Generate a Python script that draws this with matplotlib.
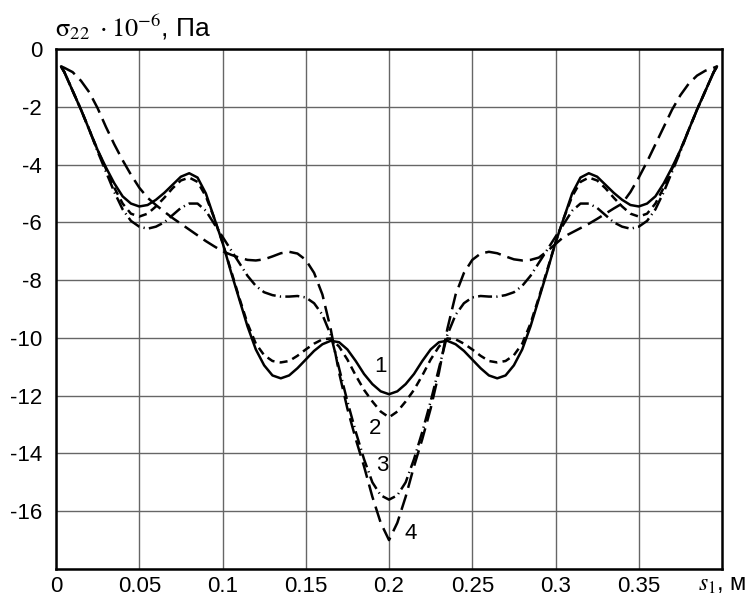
import matplotlib
matplotlib.use("Agg")
import matplotlib.pyplot as plt

plt.rcParams['font.family'] = ['Liberation Sans', 'DejaVu Sans']
plt.rcParams['mathtext.fontset'] = 'stix'
plt.rcParams['axes.unicode_minus'] = False

# координата s1, м
s1 = [0.003, 0.005, 0.01, 0.015, 0.02, 0.025, 0.03, 0.035, 0.04, 0.045,
      0.05, 0.055, 0.06, 0.065, 0.07, 0.075, 0.08, 0.085, 0.09, 0.095,
      0.1, 0.105, 0.11, 0.115, 0.12, 0.125, 0.13, 0.135, 0.14, 0.145,
      0.15, 0.155, 0.16, 0.165, 0.17, 0.175, 0.18, 0.185, 0.19, 0.195,
      0.2, 0.205, 0.21, 0.215, 0.22, 0.225, 0.23, 0.235, 0.24, 0.245,
      0.25, 0.255, 0.26, 0.265, 0.27, 0.275, 0.28, 0.285, 0.29, 0.295,
      0.3, 0.305, 0.31, 0.315, 0.32, 0.325, 0.33, 0.335, 0.34, 0.345,
      0.35, 0.355, 0.36, 0.365, 0.37, 0.375, 0.38, 0.385, 0.39, 0.395,
      0.397]

# sigma22 * 1e-6, Па
curve1 = [-0.6, -0.8, -1.45, -2.1, -2.8, -3.5, -4.1, -4.65, -5.1, -5.35,
          -5.45, -5.4, -5.22, -4.98, -4.7, -4.42, -4.3, -4.45, -5.0, -5.85,
          -6.7, -7.7, -8.65, -9.6, -10.4, -10.95, -11.3, -11.4, -11.3, -11.05,
          -10.75, -10.45, -10.22, -10.1, -10.15, -10.4, -10.8, -11.25, -11.6, -11.85,
          -11.95, -11.85, -11.6, -11.25, -10.8, -10.4, -10.15, -10.1, -10.22, -10.45,
          -10.75, -11.05, -11.3, -11.4, -11.3, -10.95, -10.4, -9.6, -8.65, -7.7,
          -6.7, -5.85, -5.0, -4.45, -4.3, -4.42, -4.7, -4.98, -5.22, -5.4,
          -5.45, -5.35, -5.1, -4.65, -4.1, -3.5, -2.8, -2.1, -1.45, -0.8,
          -0.6]
curve2 = [-0.6, -0.8, -1.45, -2.1, -2.8, -3.5, -4.15, -4.8, -5.35, -5.7,
          -5.8, -5.7, -5.45, -5.15, -4.82, -4.55, -4.45, -4.6, -5.1, -5.85,
          -6.7, -7.65, -8.6, -9.5, -10.2, -10.6, -10.8, -10.85, -10.8, -10.62,
          -10.4, -10.2, -10.05, -10.02, -10.3, -10.75, -11.3, -11.8, -12.2, -12.55,
          -12.75, -12.55, -12.2, -11.8, -11.3, -10.75, -10.3, -10.02, -10.05, -10.2,
          -10.4, -10.62, -10.8, -10.85, -10.8, -10.6, -10.2, -9.5, -8.6, -7.65,
          -6.7, -5.85, -5.1, -4.6, -4.45, -4.55, -4.82, -5.15, -5.45, -5.7,
          -5.8, -5.7, -5.35, -4.8, -4.15, -3.5, -2.8, -2.1, -1.45, -0.8,
          -0.6]
curve3 = [-0.6, -0.8, -1.45, -2.1, -2.8, -3.55, -4.25, -4.95, -5.55, -5.95,
          -6.15, -6.22, -6.15, -6.0, -5.75, -5.5, -5.35, -5.35, -5.6, -6.05,
          -6.5, -6.95, -7.4, -7.85, -8.2, -8.42, -8.52, -8.57, -8.57, -8.55,
          -8.6, -8.8, -9.2, -9.9, -11.05, -12.2, -13.25, -14.2, -15.0, -15.45,
          -15.6, -15.45, -15.0, -14.2, -13.25, -12.2, -11.05, -9.9, -9.2, -8.8,
          -8.6, -8.55, -8.57, -8.57, -8.52, -8.42, -8.2, -7.85, -7.4, -6.95,
          -6.5, -6.05, -5.6, -5.35, -5.35, -5.5, -5.75, -6.0, -6.15, -6.22,
          -6.15, -5.95, -5.55, -4.95, -4.25, -3.55, -2.8, -2.1, -1.45, -0.8,
          -0.6]
curve4 = [-0.6, -0.65, -0.8, -1.1, -1.5, -2.05, -2.7, -3.3, -3.85, -4.35,
          -4.8, -5.15, -5.4, -5.63, -5.85, -6.05, -6.25, -6.45, -6.65, -6.83,
          -7.0, -7.12, -7.22, -7.3, -7.32, -7.28, -7.18, -7.07, -7.02, -7.08,
          -7.3, -7.75, -8.5, -9.7, -11.2, -12.45, -13.5, -14.45, -15.5, -16.4,
          -17.0, -16.4, -15.5, -14.45, -13.5, -12.45, -11.2, -9.7, -8.5, -7.75,
          -7.3, -7.08, -7.02, -7.07, -7.18, -7.28, -7.32, -7.3, -7.22, -7.0,
          -6.75, -6.5, -6.35, -6.2, -6.05, -5.88, -5.7, -5.52, -5.35, -4.95,
          -4.45, -3.9, -3.3, -2.7, -2.1, -1.6, -1.2, -0.92, -0.75, -0.65,
          -0.6]

x_ticks = [0, 0.05, 0.1, 0.15, 0.2, 0.25, 0.3, 0.35]
x_tick_labels = ['0', '0.05', '0.1', '0.15', '0.2', '0.25', '0.3', '0.35']
y_ticks = [0, -2, -4, -6, -8, -10, -12, -14, -16]
y_tick_labels = ['0', '-2', '-4', '-6', '-8', '-10', '-12', '-14', '-16']

curve_labels = ['1', '2', '3', '4']
label_x = [0.1946, 0.1916, 0.1958, 0.2132]
label_y = [-11.0, -13.14, -14.41, -16.76]

fig = plt.figure(figsize=(7.51, 6.0), dpi=100)
ax = fig.add_axes([0.0746, 0.0517, 0.8868, 0.8666])

LW = 1.8
ax.plot(s1, curve1, color='black', lw=LW, solid_capstyle='round')
ax.plot(s1, curve2, color='black', lw=LW, dashes=(3.2, 2.1))
ax.plot(s1, curve3, color='black', lw=LW, dashes=(5.6, 1.7, 0.5, 1.7))
ax.plot(s1, curve4, color='black', lw=LW, dashes=(6.4, 2.8))

for txt, lx, ly in zip(curve_labels, label_x, label_y):
    ax.text(lx, ly, txt, fontsize=16, ha='center', va='center')

ax.set_xlim(0, 0.4)
ax.set_ylim(-18, 0)
ax.set_xticks(x_ticks)
ax.set_xticklabels(x_tick_labels)
ax.set_yticks(y_ticks + [-18])
ax.set_yticklabels(y_tick_labels + [''])
ax.tick_params(length=0, labelsize=16, colors='black')
ax.tick_params(axis='x', pad=5)
ax.tick_params(axis='y', pad=10)

# сетка
ax.grid(True, color='#666666', lw=1.0)
ax.set_axisbelow(True)
for sp in ax.spines.values():
    sp.set_linewidth(1.8)
    sp.set_color('black')

# подписи осей
fig.text(0.073, 0.955, r'$\mathrm{\sigma}_{22}\ \cdot 10^{-6}$, Па', fontsize=19,
         ha='left', va='center')
ax.text(0.4, -0.01, r'$s_1$, м', fontsize=17, ha='center', va='top',
        transform=ax.get_xaxis_transform())

fig.savefig('out.png', dpi=100)
